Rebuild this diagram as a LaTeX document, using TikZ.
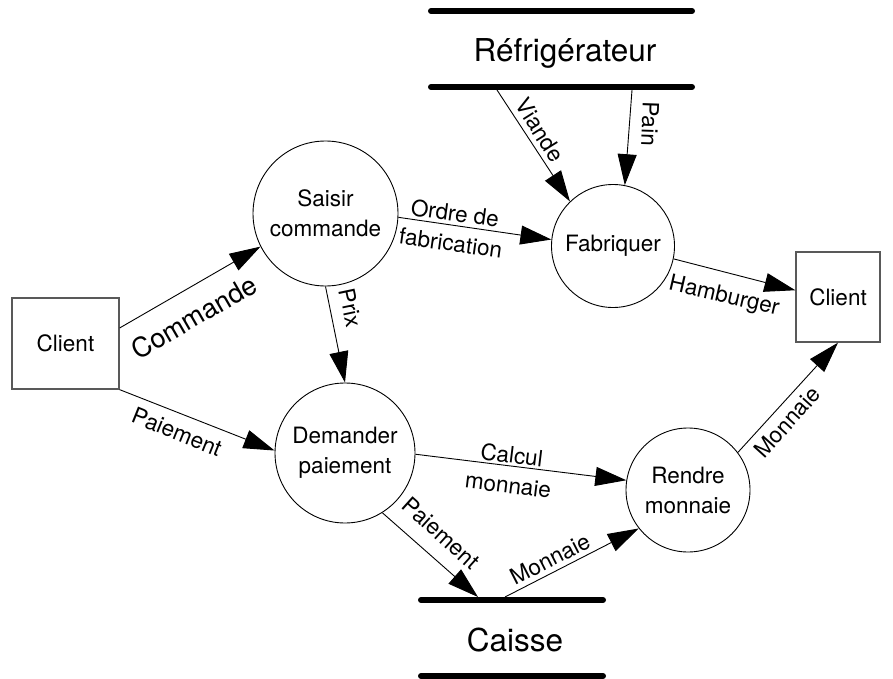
\documentclass[tikz,border=0pt]{standalone}
\usepackage{fontspec}
\setmainfont{TeX Gyre Heros}
\usetikzlibrary{arrows.meta}

\tikzset{
  proc/.style={circle, draw, line width=0.9pt, inner sep=0pt, align=center,
               font=\fontsize{22.5}{30}\selectfont},
  ext/.style={rectangle, draw=black!65, line width=1.3pt, inner sep=0pt,
              font=\fontsize{22.5}{30}\selectfont},
  flow/.style={line width=0.9pt, -{Triangle[length=31pt,width=19pt]}},
  storebar/.style={line width=6pt, line cap=round},
  storename/.style={font=\fontsize{31.5}{36}\selectfont, inner sep=0pt},
  lbl/.style={font=\fontsize{22.5}{30}\selectfont, align=center, inner sep=0pt},
}

\begin{document}
\begin{tikzpicture}[x=1pt, y=-1pt]
\useasboundingbox (0,0) rectangle (893,679);

% external entities
\node[ext, minimum width=107pt, minimum height=91pt] (clL) at (65.5,343.5) {Client};
\node[ext, minimum width=84pt, minimum height=90pt] (clR) at (838,297) {Client};

% processes
\node[proc, minimum size=145pt] (sc) at (325.5,213.5) {Saisir\\commande};
\node[proc, minimum size=140pt] (dp) at (345,453) {Demander\\paiement};
\node[proc, minimum size=123pt] (fa) at (613,246) {Fabriquer};
\node[proc, minimum size=124pt] (rm) at (688,490) {Rendre\\monnaie};

% data store: Réfrigérateur
\draw[storebar] (431,11) -- (692,11);
\draw[storebar] (431,87) -- (692,87);
\node[storename] (ref) at (565,53) {Réfrigérateur};
\coordinate (refV) at (497,90);
\coordinate (refP) at (632,90);

% data store: Caisse
\draw[storebar] (421,600) -- (603,600);
\draw[storebar] (421,676) -- (603,676);
\node[storename] (cai) at (515,640) {Caisse};
\coordinate (caiIn) at (478,597);
\coordinate (caiOut) at (505,597);

% flows
\draw[flow] (clL.16) -- (sc.207);
\draw[flow] (clL.south east) -- (dp.178);
\draw[flow] (sc.south) -- (dp.north);
\draw[flow] (sc.-3) -- (fa.174);
\draw[flow] (refV) -- (fa.134);
\draw[flow] (refP) -- (fa.79);
\draw[flow] (fa.-12) -- (clR.171);
\draw[flow] (dp.-1) -- (rm.171);
\draw[flow] (dp.-58) -- (caiIn);
\draw[flow] (caiOut) -- (rm.218);
\draw[flow] (rm.37) -- (clR.south);

% flow labels
\node[lbl, font=\fontsize{27}{32}\selectfont, rotate=30] (lCom) at (194,317) {Commande};
\node[lbl, rotate=-22] (lPai1) at (177,432) {Paiement};
\node[lbl, rotate=-78] (lPrix) at (351,308) {Prix};
\node[lbl, rotate=-8] (lOrd) at (453,228) {Ordre de\\fabrication};
\node[lbl, rotate=-58] (lVia) at (540,130) {Viande};
\node[lbl, rotate=-92] (lPain) at (650,124) {Pain};
\node[lbl, rotate=-13] (lHam) at (724,297) {Hamburger};
\node[lbl, rotate=48] (lMon1) at (787,422) {Monnaie};
\node[lbl, rotate=-7] (lCal) at (510,470) {Calcul\\monnaie};
\node[lbl, rotate=-42] (lPai2) at (441,533) {Paiement};
\node[lbl, rotate=27] (lMon2) at (550,559) {Monnaie};
\end{tikzpicture}
\end{document}
